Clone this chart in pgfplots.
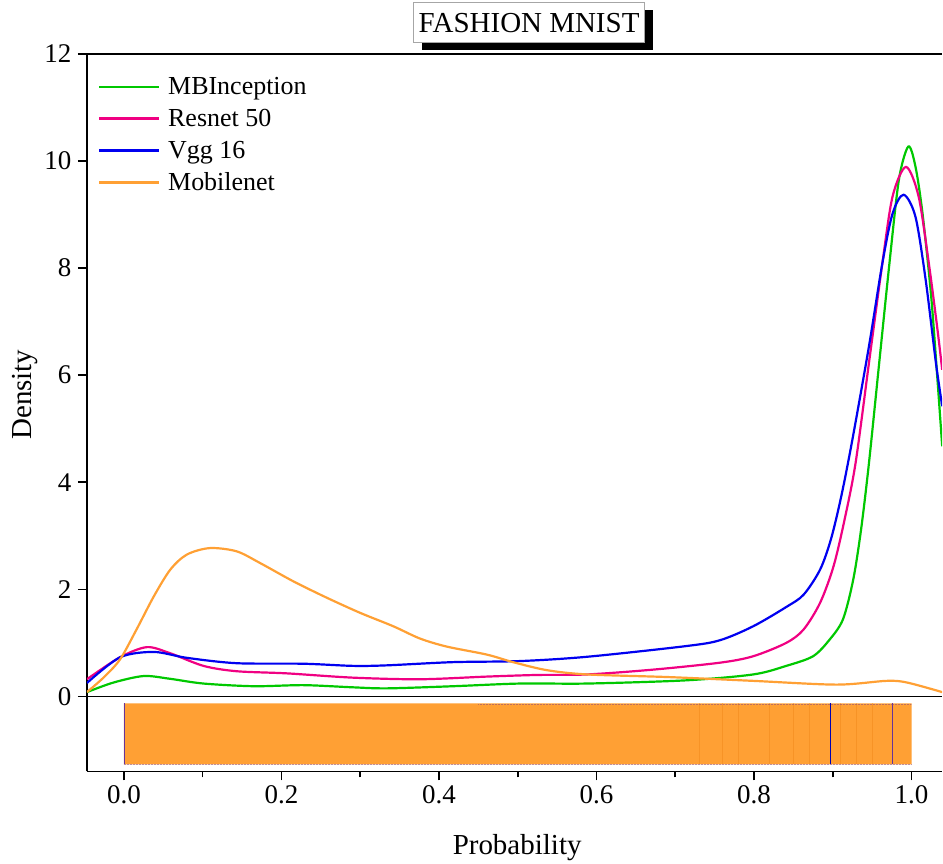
\documentclass[border=0pt]{standalone}
\usepackage{pgfplots}
\pgfplotsset{compat=1.18}
\usepackage{fontspec}
\setmainfont{Liberation Serif}
\usetikzlibrary{shadows,calc}
\definecolor{cgreen}{RGB}{0,200,0}
\definecolor{cpink}{RGB}{240,0,130}
\definecolor{cblue}{RGB}{0,0,240}
\definecolor{corange}{RGB}{255,160,52}
\begin{document}
\begin{tikzpicture}
\begin{axis}[
  name=ax,
  scale only axis,
  width=856pt, height=718pt,
  xmin=-0.047, xmax=1.039,
  ymin=-1.4, ymax=12,
  axis x line=box, axis y line=left,
  axis line style={line width=1.6pt, -},
  xtick={0,0.2,...,1.0},
  minor xtick={0.1,0.3,0.5,0.7,0.9},
  ytick={0,2,...,12},
  xticklabel style={/pgf/number format/fixed,/pgf/number format/fixed zerofill,/pgf/number format/precision=1, yshift=-2pt},
  yticklabel style={xshift=-3pt},
  /pgf/number format/assume math mode=true,
  tick style={line width=1.6pt, black},
  major tick length=9pt, minor tick length=6pt,
  tick align=outside,
  xtick pos=bottom, ytick pos=left,
  ticklabel style={font=\fontsize{27}{27}\selectfont},
  legend style={draw=none, fill=none, at={(0.0125,0.970)}, anchor=north west,
    font=\fontsize{26}{26}\selectfont, row sep=9pt, inner sep=0pt},
  legend cell align=left,
  legend image code/.code={\draw[#1, line width=2.6pt] (0pt,0pt) -- (60pt,0pt); \path (66pt,0pt);},
  clip=true,
]
% rug area
\addplot[fill=corange, draw=none, forget plot] coordinates {(0,-0.13) (1,-0.13) (1,-1.27) (0,-1.27) (0,-0.13)};
\addplot[color=orange!70!brown, line width=0.5pt, opacity=0.4, forget plot, unbounded coords=jump] coordinates {
(0.73,-0.13) (0.73,-1.27) (0.73,nan)
(0.76,-0.13) (0.76,-1.27) (0.76,nan)
(0.78,-0.13) (0.78,-1.27) (0.78,nan)
(0.82,-0.13) (0.82,-1.27) (0.82,nan)
(0.85,-0.13) (0.85,-1.27) (0.85,nan)
(0.87,-0.13) (0.87,-1.27) (0.87,nan)
(0.91,-0.13) (0.91,-1.27) (0.91,nan)
(0.93,-0.13) (0.93,-1.27) (0.93,nan)
(0.95,-0.13) (0.95,-1.27)};
\addplot[color=blue!60!orange, line width=0.6pt, forget plot, unbounded coords=jump] coordinates {
(0.0,-0.13) (0.0,-1.27) (0.0,nan)
(0.975,-0.13) (0.975,-1.27)};
\addplot[color=blue!70!black, line width=0.8pt, forget plot] coordinates {(0.897,-0.13) (0.897,-1.27)};
\addplot[color=blue!50!orange, line width=0.5pt, densely dotted, opacity=0.5, forget plot, unbounded coords=jump] coordinates {
(0.45,-0.14) (1,-0.14) (1,nan) (0,-1.26) (1,-1.26)};
% zero line
\addplot[black, line width=1.6pt, forget plot] coordinates {(-0.047,0) (1.039,0)};
% curves
\addplot[cgreen, line width=2.2pt, smooth] coordinates {
(-0.047,0.08) (-0.013,0.26) (0.025,0.38) (0.058,0.33) (0.101,0.24) (0.165,0.19)
(0.228,0.21) (0.290,0.17) (0.334,0.15) (0.418,0.19) (0.503,0.24) (0.588,0.24)
(0.714,0.30) (0.799,0.41) (0.841,0.57) (0.875,0.75) (0.896,1.06) (0.913,1.44)
(0.926,2.18) (0.936,3.12) (0.946,4.36) (0.959,6.23) (0.972,8.09) (0.984,9.65)
(0.996,10.27) (1.005,9.9) (1.014,9.02) (1.025,7.47) (1.033,5.91) (1.039,4.67)};
\addlegendentry{MBInception}
\addplot[cpink, line width=2.2pt, smooth] coordinates {
(-0.047,0.32) (-0.005,0.73) (0.029,0.92) (0.058,0.81) (0.101,0.57) (0.143,0.47)
(0.207,0.43) (0.291,0.35) (0.376,0.32) (0.461,0.37) (0.524,0.40) (0.588,0.41)
(0.672,0.50) (0.757,0.63) (0.799,0.75) (0.841,1.00) (0.863,1.25) (0.884,1.75)
(0.901,2.43) (0.915,3.30) (0.929,4.36) (0.946,6.23) (0.963,8.09) (0.976,9.34)
(0.993,9.89) (1.009,9.34) (1.022,8.09) (1.033,6.85) (1.039,6.1)};
\addlegendentry{Resnet 50}
\addplot[cblue, line width=2.2pt, smooth] coordinates {
(-0.047,0.25) (-0.005,0.73) (0.038,0.83) (0.080,0.72) (0.143,0.62) (0.228,0.61)
(0.291,0.57) (0.334,0.58) (0.418,0.64) (0.503,0.66) (0.588,0.74) (0.714,0.94)
(0.757,1.05) (0.799,1.31) (0.841,1.67) (0.863,1.90) (0.884,2.37) (0.898,2.95)
(0.911,3.75) (0.925,4.80) (0.946,6.54) (0.963,8.09) (0.976,9.02) (0.990,9.37)
(1.005,8.96) (1.018,7.78) (1.031,6.23) (1.039,5.42)};
\addlegendentry{Vgg 16}
\addplot[corange, line width=2.2pt, smooth] coordinates {
(-0.047,0.08) (-0.026,0.35) (-0.005,0.69) (0.016,1.25) (0.038,1.87) (0.059,2.37) (0.080,2.65)
(0.109,2.77) (0.143,2.71) (0.173,2.49) (0.215,2.15) (0.258,1.84) (0.300,1.56)
(0.342,1.31) (0.376,1.08) (0.410,0.93) (0.461,0.78) (0.494,0.64) (0.537,0.49)
(0.588,0.41) (0.693,0.36) (0.799,0.29) (0.905,0.22) (0.968,0.29) (0.994,0.26) (1.039,0.08)};
\addlegendentry{Mobilenet}
\end{axis}
\node[font=\fontsize{29}{29}\selectfont, anchor=center]
  at ($(ax.south west)!0.503!(ax.south east)+(0,-76pt)$) {Probability};
\node[font=\fontsize{29}{29}\selectfont, anchor=center, rotate=90]
  at ($(ax.south west)!0.525!(ax.north west)+(-62pt,0)$) {Density};
\node[draw=gray!70, line width=0.6pt, fill=white, inner xsep=5pt, minimum height=40pt,
  font=\fontsize{29}{29}\selectfont, anchor=south,
  drop shadow={shadow xshift=8pt, shadow yshift=-7pt, fill=black, opacity=1}]
  at ($(ax.north west)!0.517!(ax.north east)+(0,11pt)$) {FASHION MNIST};
\path ($(ax.south west)+(-87pt,-90pt)$) rectangle ($(ax.north east)+(0,54pt)$);
\end{tikzpicture}
\end{document}
